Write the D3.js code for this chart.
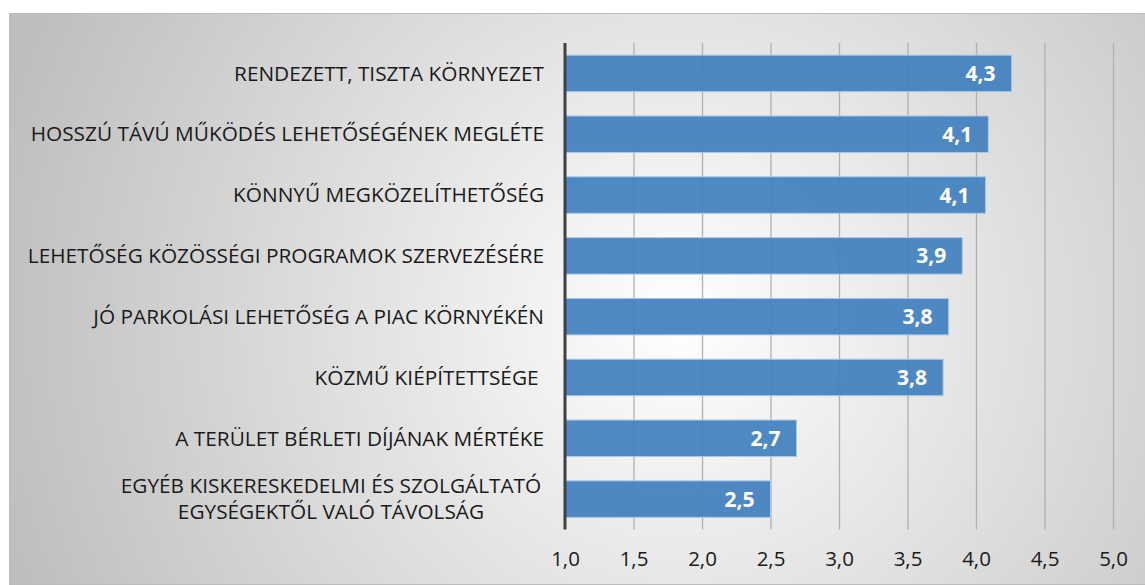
<!DOCTYPE html>
<html>
<head>
  <meta charset="utf-8">
  <script src="https://d3js.org/d3.v7.min.js"></script>
  <style>
    body { margin: 0; background: #fff; }
    text { font-family: "Open Sans", sans-serif; }
    .cat { font-size: 20.8px; fill: #1a1a1a; white-space: pre; }
    .tick-label { font-size: 20.5px; fill: #1a1a1a; }
    .val { font-size: 21px; font-weight: bold; fill: #fff; }
  </style>
</head>
<body>
<script>
  // chart values
  var categories = [
    "RENDEZETT, TISZTA KÖRNYEZET",
    "HOSSZÚ TÁVÚ MŰKÖDÉS LEHETŐSÉGÉNEK MEGLÉTE",
    "KÖNNYŰ MEGKÖZELÍTHETŐSÉG",
    "LEHETŐSÉG KÖZÖSSÉGI PROGRAMOK SZERVEZÉSÉRE",
    "JÓ PARKOLÁSI LEHETŐSÉG A PIAC KÖRNYÉKÉN",
    "KÖZMŰ KIÉPÍTETTSÉGE ",
    "A TERÜLET BÉRLETI DÍJÁNAK MÉRTÉKE",
    "EGYÉB KISKERESKEDELMI ÉS SZOLGÁLTATÓ\nEGYSÉGEKTŐL VALÓ TÁVOLSÁG"
  ];
  var values = [4.26, 4.09, 4.07, 3.90, 3.80, 3.76, 2.69, 2.50];
  var tickValues = [1.0, 1.5, 2.0, 2.5, 3.0, 3.5, 4.0, 4.5, 5.0];

  var W = 1145, H = 585;
  var comma = function(v) { return d3.format(".1f")(v).replace(".", ","); };

  var svg = d3.select("body").append("svg")
    .attr("width", W)
    .attr("height", H);

  // background with radial shading
  var grad = svg.append("defs").append("radialGradient")
    .attr("id", "bg")
    .attr("gradientUnits", "userSpaceOnUse")
    .attr("cx", 680).attr("cy", 320).attr("r", 720);
  grad.append("stop").attr("offset", "0%").attr("stop-color", "#ffffff");
  grad.append("stop").attr("offset", "100%").attr("stop-color", "#bdbdbd");

  svg.append("rect")
    .attr("x", 9.5).attr("y", 13.5)
    .attr("width", W - 9).attr("height", H - 14)
    .attr("fill", "url(#bg)")
    .attr("stroke", "#bcbcbc");

  var x = d3.scaleLinear().domain([1, 5]).range([565, 1113]);
  var y = d3.scaleBand().domain(d3.range(categories.length))
    .range([43, 529.5]).paddingInner(0.4).paddingOuter(0.2);

  // gridlines
  svg.append("g")
    .attr("transform", "translate(0,529.5)")
    .call(d3.axisBottom(x).tickValues(tickValues.slice(1)).tickSize(-(529.5 - 43)).tickFormat(""))
    .call(function(g) {
      g.select(".domain").remove();
      g.selectAll("line").attr("stroke", "#b0b0b0").attr("stroke-width", 1.3);
    });

  // bars
  svg.append("g").selectAll("rect")
    .data(values)
    .enter().append("rect")
    .attr("x", x(1))
    .attr("y", function(d, i) { return y(i); })
    .attr("width", function(d) { return x(d) - x(1); })
    .attr("height", y.bandwidth())
    .attr("fill", "#4482bf")
    .attr("fill-opacity", 0.94)
    .attr("stroke", "#aac8e6")
    .attr("stroke-width", 1);

  // value labels
  svg.append("g").selectAll("text")
    .data(values)
    .enter().append("text")
    .attr("class", "val")
    .attr("x", function(d) { return x(d) - 16; })
    .attr("y", function(d, i) { return y(i) + y.bandwidth() / 2; })
    .attr("dy", "0.36em")
    .attr("text-anchor", "end")
    .text(comma);

  // vertical axis line
  svg.append("g")
    .attr("transform", "translate(" + x(1) + ",0)")
    .call(d3.axisLeft(y).tickSize(0).tickFormat(""))
    .call(function(g) {
      g.select(".domain").attr("d", "M0,43V529.5").attr("stroke", "#404040").attr("stroke-width", 3);
    });

  // category labels
  var cat = svg.append("g").selectAll("text")
    .data(categories)
    .enter().append("text")
    .attr("class", "cat")
    .attr("text-anchor", "end")
    .attr("y", function(d, i) { return y(i) + y.bandwidth() / 2; });

  cat.each(function(d) {
    var lines = d.split("\n");
    var t = d3.select(this);
    if (lines.length === 1) {
      t.attr("x", 544).attr("dy", "0.35em").text(d);
    } else {
      // centred two-line label
      t.attr("text-anchor", "middle").attr("x", 331);
      lines.forEach(function(l, k) {
        t.append("tspan")
          .attr("x", 331)
          .attr("dy", k === 0 ? "-6px" : "26px")
          .text(l);
      });
    }
  });

  // x tick labels
  svg.append("g")
    .attr("transform", "translate(0,559)")
    .call(d3.axisBottom(x).tickValues(tickValues).tickSize(0).tickFormat(comma))
    .call(function(g) {
      g.select(".domain").remove();
      g.selectAll("text").attr("class", "tick-label").attr("dy", "0.35em").attr("y", 0)
        .attr("font-family", null).attr("font-size", null).attr("fill", null);
    });
</script>
</body>
</html>
